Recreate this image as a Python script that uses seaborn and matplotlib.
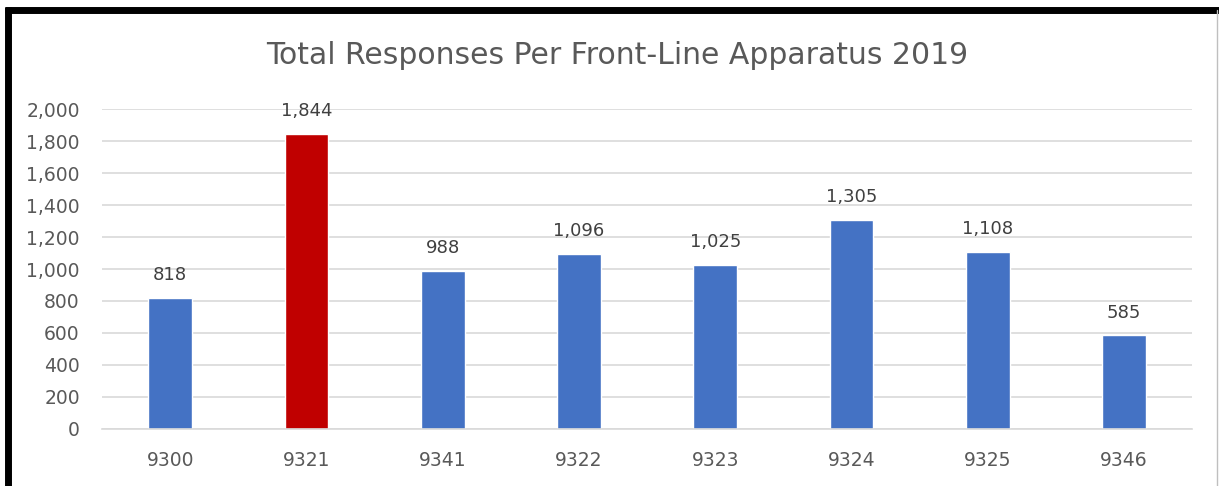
import matplotlib
matplotlib.use("Agg")
import matplotlib.pyplot as plt
import seaborn as sns
import pandas as pd
from matplotlib.lines import Line2D

apparatus = ["9300", "9321", "9341", "9322", "9323", "9324", "9325", "9346"]
responses = [818, 1844, 988, 1096, 1025, 1305, 1108, 585]
highlight = "9321"

blue = "#4472C4"
red = "#C00000"
text_gray = "#595959"

df = pd.DataFrame({"Apparatus": apparatus, "Responses": responses})
palette = {a: (red if a == highlight else blue) for a in apparatus}

sns.set_theme(style="white")
plt.rcParams["font.family"] = ["DejaVu Sans"]

fig = plt.figure(figsize=(12.19, 4.86), dpi=100)
ax = fig.add_axes([0.0837, 0.1173, 0.8943, 0.6584])

sns.barplot(data=df, x="Apparatus", y="Responses", hue="Apparatus",
            palette=palette, order=apparatus, width=0.32, legend=False,
            saturation=1, ax=ax)

ax.set_ylim(0, 2000)
ax.set_xlim(-0.5, len(apparatus) - 0.5)
ax.set_yticks(range(0, 2001, 200))
ax.set_yticklabels([f"{v:,}" for v in range(0, 2001, 200)])
ax.yaxis.grid(True, color="#D9D9D9", linewidth=1.2)
ax.set_axisbelow(True)
for s in ["top", "right", "left"]:
    ax.spines[s].set_visible(False)
ax.spines["bottom"].set_color("#D9D9D9")
ax.spines["bottom"].set_linewidth(1.2)
ax.tick_params(axis="both", colors=text_gray, labelsize=13.5, length=0)
ax.tick_params(axis="y", pad=16)
ax.tick_params(axis="x", pad=16)
ax.set_xlabel("")
ax.set_ylabel("")

for i, v in enumerate(responses):
    ax.annotate(f"{v:,}", (i, v), xytext=(0, 10), textcoords="offset points",
                ha="center", va="bottom", fontsize=13, color="#404040")

fig.text(0.506, 0.885, "Total Responses Per Front-Line Apparatus 2019",
         ha="center", va="center", fontsize=21.5, color=text_gray)

# frame around the chart
fig.add_artist(Line2D([0.0066, 0.0066], [0, 0.985], color="black",
                      linewidth=5, solid_capstyle="butt"))
fig.add_artist(Line2D([0.0045, 1.0], [0.979, 0.979], color="black",
                      linewidth=5, solid_capstyle="butt"))
fig.add_artist(Line2D([0.9985, 0.9985], [0, 0.98], color="#BFBFBF", linewidth=1))

fig.savefig("out.png", dpi=100, facecolor="white")
